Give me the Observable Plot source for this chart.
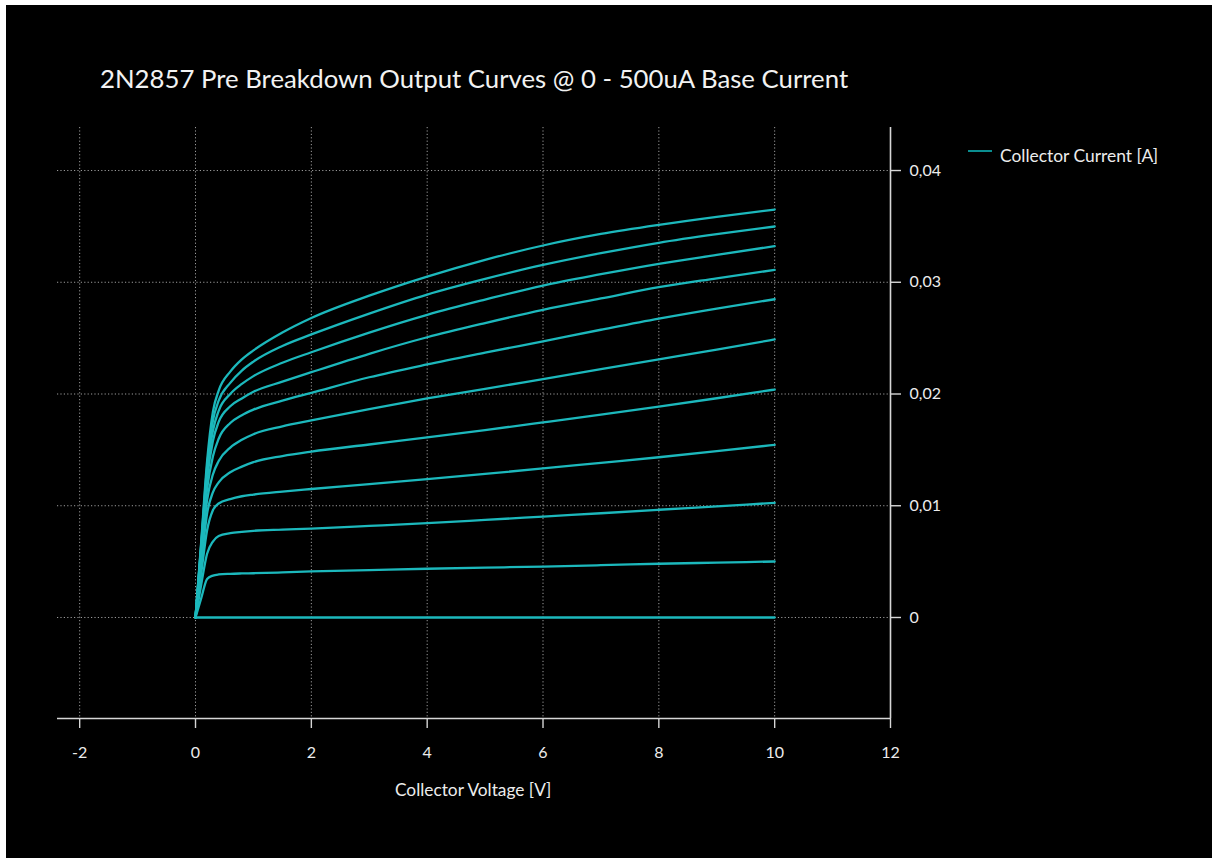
<!DOCTYPE html>
<html>
<head>
<meta charset="utf-8">
<script src="https://cdn.jsdelivr.net/npm/d3@7"></script>
<script src="https://cdn.jsdelivr.net/npm/@observablehq/plot@0.6"></script>
<style>
  html, body { margin: 0; padding: 0; background: #ffffff; }
  body { width: 1212px; height: 858px; position: relative; overflow: hidden; font-family: Lato, "Noto Sans", sans-serif; }
  #panel { position: absolute; left: 6px; top: 5px; width: 1206px; height: 853px; background: #000000; }
  #chart { position: absolute; left: 0; top: 0; }
  #title { position: absolute; left: 100px; top: 63px; color: #f2f2f2; font-size: 25.75px; white-space: nowrap; }
  #xlabel { position: absolute; left: 395px; top: 779px; color: #ececec; font-size: 17.3px; white-space: nowrap; }
  #legend { position: absolute; left: 968px; top: 145px; color: #ececec; font-size: 17.4px; white-space: nowrap; display: flex; align-items: center; }
  #legend .swatch { width: 24px; height: 2px; background: #0a8d8f; margin-right: 8px; margin-top: -9px; }
</style>
</head>
<body>
<div id="panel"></div>
<div id="chart"></div>
<div id="title">2N2857 Pre Breakdown Output Curves @ 0 - 500uA Base Current</div>
<div id="xlabel">Collector Voltage [V]</div>
<div id="legend"><span class="swatch"></span><span>Collector Current [A]</span></div>
<script>
// Collector voltage sweep points [V]
const collectorVoltage = [0, 0.1, 0.2, 0.3, 0.4, 0.6, 0.8, 1.0, 1.5, 2, 3, 4, 5, 6, 7, 8, 9, 10];

// Base current steps [uA]
const baseCurrent = [0, 50, 100, 150, 200, 250, 300, 350, 400, 450, 500];

// Collector current [A] for each base current step
const ic_0uA   = [0, 0, 0, 0, 0, 0, 0, 0, 0, 0, 0, 0, 0, 0, 0, 0, 0, 0];
const ic_50uA  = [0, 0.00175, 0.00345, 0.00375, 0.00385, 0.00391, 0.00394, 0.00396, 0.00403, 0.00412, 0.00424, 0.00436, 0.00446, 0.00456, 0.00468, 0.00481, 0.00491, 0.00501];
const ic_100uA = [0, 0.0030, 0.0057, 0.0068, 0.0073, 0.00755, 0.00767, 0.00776, 0.00786, 0.00795, 0.00819, 0.00844, 0.00873, 0.00903, 0.00933, 0.00964, 0.00995, 0.01026];
const ic_150uA = [0, 0.0040, 0.0078, 0.0096, 0.0102, 0.0106, 0.01085, 0.0110, 0.01127, 0.01150, 0.01193, 0.01238, 0.01285, 0.01334, 0.01384, 0.01434, 0.01488, 0.01545];
const ic_200uA = [0, 0.0048, 0.0093, 0.0112, 0.0121, 0.0130, 0.0135, 0.0139, 0.01445, 0.01485, 0.01548, 0.01611, 0.01677, 0.01746, 0.01816, 0.01888, 0.01962, 0.02040];
const ic_250uA = [0, 0.0055, 0.0105, 0.0128, 0.0140, 0.0152, 0.0159, 0.0164, 0.0171, 0.01763, 0.01865, 0.01960, 0.02046, 0.02134, 0.02222, 0.02310, 0.02398, 0.02488];
const ic_300uA = [0, 0.0060, 0.0115, 0.0144, 0.0160, 0.0174, 0.0181, 0.0186, 0.0194, 0.02010, 0.02150, 0.02265, 0.02370, 0.02472, 0.02575, 0.02675, 0.02765, 0.02848];
const ic_350uA = [0, 0.0063, 0.0124, 0.0158, 0.0175, 0.0189, 0.0196, 0.0202, 0.0211, 0.02195, 0.02360, 0.02508, 0.02635, 0.02753, 0.02855, 0.02956, 0.03035, 0.03111];
const ic_400uA = [0, 0.0065, 0.0130, 0.0167, 0.0185, 0.0200, 0.0209, 0.0216, 0.0228, 0.02374, 0.02550, 0.02709, 0.02845, 0.02971, 0.03072, 0.03165, 0.03245, 0.03323];
const ic_450uA = [0, 0.0067, 0.0135, 0.0176, 0.0194, 0.0210, 0.0221, 0.0229, 0.0243, 0.02533, 0.02720, 0.02890, 0.03030, 0.03155, 0.03260, 0.03353, 0.03430, 0.03499];
const ic_500uA = [0, 0.0069, 0.0140, 0.0184, 0.0203, 0.0220, 0.0231, 0.0239, 0.0255, 0.02680, 0.02880, 0.03051, 0.03201, 0.03329, 0.03432, 0.03514, 0.03586, 0.03651];

// Axis ticks
const xTicks = [-2, 0, 2, 4, 6, 8, 10, 12];
const yTicks = [0, 0.01, 0.02, 0.03, 0.04];

const curves = [ic_0uA, ic_50uA, ic_100uA, ic_150uA, ic_200uA, ic_250uA, ic_300uA, ic_350uA, ic_400uA, ic_450uA, ic_500uA];

// Long-format table: one row per (base current, voltage) point
const rows = [];
curves.forEach((series, k) => {
  series.forEach((ic, j) => rows.push({ib: baseCurrent[k], v: collectorVoltage[j], ic}));
});

const xMin = -2.383, xMax = 12;
const yMin = -0.00904, yMax = 0.04385;

const commaFormat = d => d === 0 ? "0" : d.toFixed(2).replace(".", ",");

const gridStyle = {stroke: "#9c9c9c", strokeOpacity: 1, strokeWidth: 1, strokeDasharray: "1.2,2.2"};
const axisStroke = "#d6d6d6";

const chart = Plot.plot({
  width: 1212,
  height: 858,
  marginLeft: 57,
  marginRight: 322,
  marginTop: 127,
  marginBottom: 140,
  x: {domain: [xMin, xMax]},
  y: {domain: [yMin, yMax]},
  style: {background: "transparent", color: "#ececec", fontFamily: "Lato, 'Noto Sans', sans-serif", fontSize: "16px"},
  marks: [
    Plot.gridX(xTicks.filter(d => d !== 12), gridStyle),
    Plot.gridY(yTicks, gridStyle),
    Plot.ruleY([yMin], {stroke: axisStroke, strokeWidth: 1.6}),
    Plot.ruleX([xMax], {stroke: axisStroke, strokeWidth: 1.6}),
    Plot.axisX(xTicks, {anchor: "bottom", tickSize: 10, tickPadding: 18, stroke: axisStroke, strokeWidth: 1.4, fill: "#ececec", label: null, tickFormat: d => String(d)}),
    Plot.axisY(yTicks, {anchor: "right", tickSize: 10, tickPadding: 9, stroke: axisStroke, strokeWidth: 1.4, fill: "#ececec", label: null, tickFormat: commaFormat}),
    Plot.line(rows, {x: "v", y: "ic", z: "ib", stroke: "#1cb8bc", strokeWidth: 2.3, curve: "monotone-x"})
  ]
});

document.getElementById("chart").appendChild(chart);
</script>
</body>
</html>
